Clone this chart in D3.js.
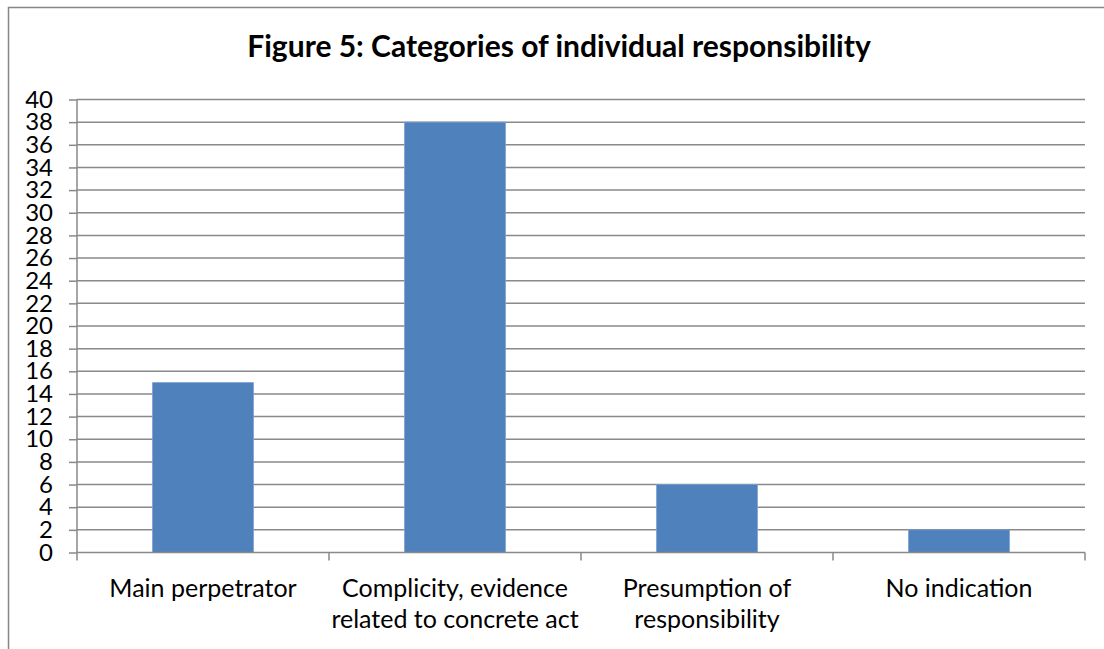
<!DOCTYPE html>
<html>
<head>
<meta charset="utf-8">
<script src="https://cdn.jsdelivr.net/npm/d3@7"></script>
<style>
  body { margin: 0; background: #fff; }
  svg { display: block; font-family: Lato, "Open Sans", sans-serif; }
</style>
</head>
<body>
<div id="chart"></div>
<script>
// chart data
const categories = [
    ["Main perpetrator"],
    ["Complicity, evidence", "related to concrete act"],
    ["Presumption of", "responsibility"],
    ["No indication"]
];
const values = [15, 38, 6, 2];
const yTicks = d3.range(0, 41, 2);
const title = "Figure 5: Categories of individual responsibility";

const W = 1104, H = 649;
const margin = { top: 99.5, right: 19, bottom: 96.5, left: 77 };
const width = W - margin.left - margin.right,
    height = H - margin.top - margin.bottom;

const svg = d3.select("#chart").append("svg")
    .attr("width", W)
    .attr("height", H);

// outer chart border
svg.append("rect")
    .attr("x", 8.5)
    .attr("y", 7.5)
    .attr("width", 1120)
    .attr("height", 700)
    .attr("fill", "none")
    .attr("stroke", "#868686")
    .attr("stroke-width", 1.5);

// title
svg.append("text")
    .attr("x", 559)
    .attr("y", 57)
    .attr("text-anchor", "middle")
    .attr("font-size", 30)
    .attr("font-weight", "bold")
    .attr("fill", "#000")
    .text(title);

const g = svg.append("g")
    .attr("transform", "translate(" + margin.left + "," + margin.top + ")");

const x = d3.scaleBand()
    .domain(d3.range(categories.length))
    .range([0, width])
    .paddingInner(0.6)
    .paddingOuter(0.3);

const y = d3.scaleLinear()
    .domain([0, 40])
    .range([height, 0]);

// gridlines
g.append("g")
    .selectAll("line")
    .data(yTicks.filter(d => d > 0))
    .enter().append("line")
    .attr("x1", 0)
    .attr("x2", width)
    .attr("y1", d => y(d))
    .attr("y2", d => y(d))
    .attr("stroke", "#898989")
    .attr("stroke-width", 1.5);

// y axis
const yAxis = d3.axisLeft(y)
    .tickValues(yTicks)
    .tickSize(8)
    .tickPadding(16);

const yG = g.append("g").call(yAxis);
yG.select(".domain").attr("stroke", "#898989").attr("stroke-width", 1.5)
    .attr("d", "M0," + height + "V0");
yG.selectAll(".tick line").attr("stroke", "#898989").attr("stroke-width", 1.5);
yG.selectAll(".tick text")
    .attr("font-family", "Lato, sans-serif")
    .attr("font-size", 24)
    .attr("fill", "#000");

// bars
g.selectAll(".bar")
    .data(values)
    .enter().append("rect")
    .attr("class", "bar")
    .attr("x", (d, i) => x(i))
    .attr("y", d => y(d))
    .attr("width", x.bandwidth())
    .attr("height", d => height - y(d))
    .attr("fill", "#4F81BD")
    .attr("stroke", "#7a9fd0")
    .attr("stroke-width", 0.8);

// x axis line and category ticks
const step = width / categories.length;
g.append("line")
    .attr("x1", 0).attr("x2", width)
    .attr("y1", height).attr("y2", height)
    .attr("stroke", "#898989")
    .attr("stroke-width", 1.5);

g.selectAll(".xtick")
    .data(d3.range(categories.length + 1))
    .enter().append("line")
    .attr("class", "xtick")
    .attr("x1", d => d * step).attr("x2", d => d * step)
    .attr("y1", height).attr("y2", height + 8)
    .attr("stroke", "#898989")
    .attr("stroke-width", 1.5);

// category labels
const labels = g.selectAll(".xlabel")
    .data(categories)
    .enter().append("text")
    .attr("class", "xlabel")
    .attr("text-anchor", "middle")
    .attr("font-size", 25)
    .attr("fill", "#000")
    .attr("transform", (d, i) => "translate(" + (x(i) + x.bandwidth() / 2) + "," + (height + 44.5) + ")");

labels.selectAll("tspan")
    .data(d => d)
    .enter().append("tspan")
    .attr("x", 0)
    .attr("dy", (d, i) => i === 0 ? 0 : 31)
    .text(d => d);
</script>
</body>
</html>
